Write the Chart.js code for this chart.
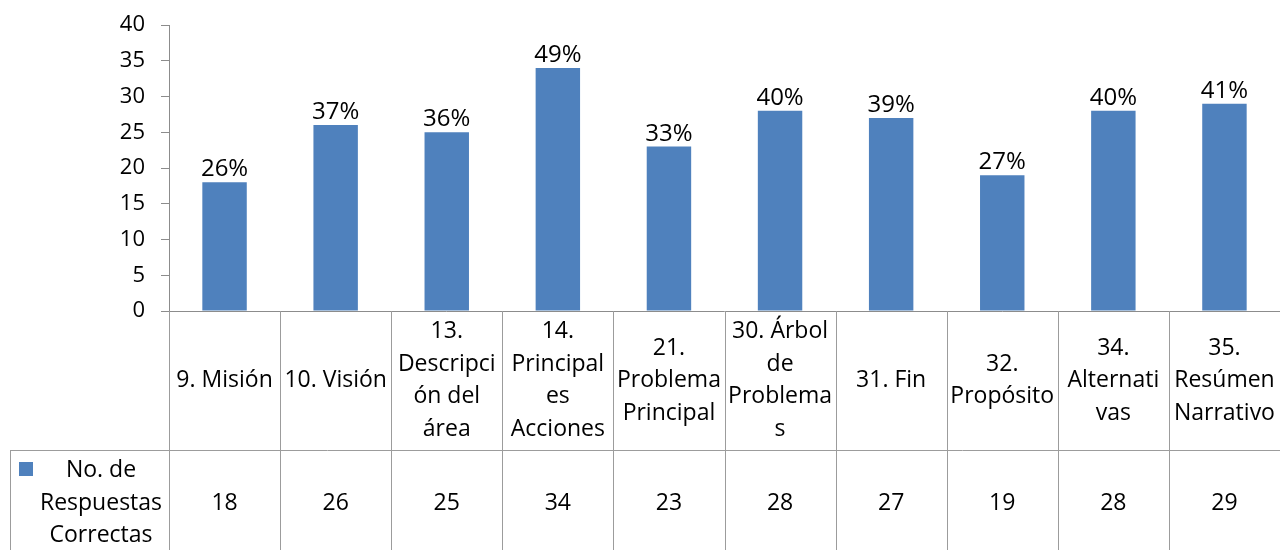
<!DOCTYPE html>
<html>
<head>
<meta charset="utf-8">
<script src="https://cdn.jsdelivr.net/npm/chart.js@4.4.1/dist/chart.umd.min.js"></script>
<style>
  html, body { margin: 0; padding: 0; background: #ffffff; }
  #wrap { width: 1280px; height: 550px; position: relative; }
</style>
</head>
<body>
<div id="wrap"><canvas id="c" width="1280" height="550"></canvas></div>
<script>
// ---- data ----
const categories = [
  ["9. Misión"],
  ["10. Visión"],
  ["13.", "Descripci", "ón del", "área"],
  ["14.", "Principal", "es", "Acciones"],
  ["21.", "Problema", "Principal"],
  ["30. Árbol", "de", "Problema", "s"],
  ["31. Fin"],
  ["32.", "Propósito"],
  ["34.", "Alternati", "vas"],
  ["35.", "Resúmen", "Narrativo"]
];
const correctAnswers = [18, 26, 25, 34, 23, 28, 27, 19, 28, 29];
const percentLabels = ["26%", "37%", "36%", "49%", "33%", "40%", "39%", "27%", "40%", "41%"];
const seriesName = ["No. de", "Respuestas", "Correctas"];
const yTicks = [0, 5, 10, 15, 20, 25, 30, 35, 40];

const FONT = "'Open Sans', 'Noto Sans', sans-serif";
const BAR_COLOR = "#4F81BD";
const LINE_COLOR = "#9C9C9C";
const AXIS_COLOR = "#8C8C8C";

const tablePlugin = {
  id: "dataTable",
  afterDatasetsDraw(chart) {
    const ctx = chart.ctx;
    const meta = chart.getDatasetMeta(0);
    ctx.save();
    ctx.fillStyle = "#000";
    ctx.font = "24px " + FONT;
    ctx.textAlign = "center";
    ctx.textBaseline = "alphabetic";
    meta.data.forEach((bar, i) => {
      ctx.fillText(percentLabels[i], bar.x, bar.y - 6);
    });
    ctx.restore();
  },
  afterDraw(chart) {
    const ctx = chart.ctx;
    const xs = chart.scales.x;
    const area = chart.chartArea;
    const step = xs.getPixelForValue(1) - xs.getPixelForValue(0);
    const top = area.bottom;
    const rowSplit = 450;
    const bottom = 550;
    ctx.save();
    ctx.lineWidth = 1;
    ctx.strokeStyle = AXIS_COLOR;
    ctx.beginPath();
    ctx.moveTo(area.left, Math.round(top) + 0.5);
    ctx.lineTo(area.right, Math.round(top) + 0.5);
    ctx.stroke();
    ctx.strokeStyle = LINE_COLOR;
    ctx.beginPath();
    ctx.moveTo(10, rowSplit + 0.5);
    ctx.lineTo(area.right, rowSplit + 0.5);
    ctx.moveTo(10.5, rowSplit);
    ctx.lineTo(10.5, bottom);
    for (let i = 0; i <= categories.length; i++) {
      const bx = Math.round(xs.getPixelForValue(i) - step / 2) + 0.5;
      ctx.moveTo(bx, top);
      ctx.lineTo(bx, bottom);
    }
    ctx.stroke();

    ctx.fillStyle = "#000";
    ctx.font = "23px " + FONT;
    ctx.textAlign = "center";
    ctx.textBaseline = "middle";
    const lh = 32.5;
    const midCat = (top + rowSplit) / 2;
    categories.forEach((lines, i) => {
      const cx = xs.getPixelForValue(i);
      const y0 = midCat - (lines.length - 1) * lh / 2;
      lines.forEach((t, j) => ctx.fillText(t, cx, y0 + j * lh));
    });
    const midVal = 503;
    correctAnswers.forEach((v, i) => {
      ctx.fillText(String(v), xs.getPixelForValue(i), midVal);
    });
    ctx.fillStyle = BAR_COLOR;
    ctx.fillRect(19, 462, 14, 14);
    ctx.fillStyle = "#000";
    const y0 = midVal - (seriesName.length - 1) * lh / 2;
    seriesName.forEach((t, j) => ctx.fillText(t, 101, y0 + j * lh));
    ctx.restore();
  }
};

new Chart(document.getElementById("c"), {
  type: "bar",
  data: {
    labels: categories.map(l => l.join(" ")),
    datasets: [{
      label: seriesName.join(" "),
      data: correctAnswers,
      backgroundColor: BAR_COLOR,
      borderWidth: 0,
      categoryPercentage: 1.0,
      barPercentage: 0.4
    }]
  },
  options: {
    responsive: false,
    animation: false,
    devicePixelRatio: 1,
    layout: { padding: { top: 25, bottom: 239, left: 0, right: 0 } },
    plugins: { legend: { display: false }, tooltip: { enabled: false } },
    scales: {
      x: { display: false },
      y: {
        min: 0, max: 40,
        afterBuildTicks(scale) { scale.ticks = yTicks.map(v => ({ value: v })); },
        afterFit(scale) {
          scale.width = 169;
          scale.paddingTop = 0;
          scale.paddingBottom = 0;
        },
        ticks: {
          color: "#000",
          font: { family: FONT, size: 22 },
          padding: 16
        },
        grid: {
          drawOnChartArea: false,
          drawTicks: true,
          tickLength: 8,
          color: AXIS_COLOR
        },
        border: { display: true, color: AXIS_COLOR }
      }
    }
  },
  plugins: [tablePlugin]
});
</script>
</body>
</html>
